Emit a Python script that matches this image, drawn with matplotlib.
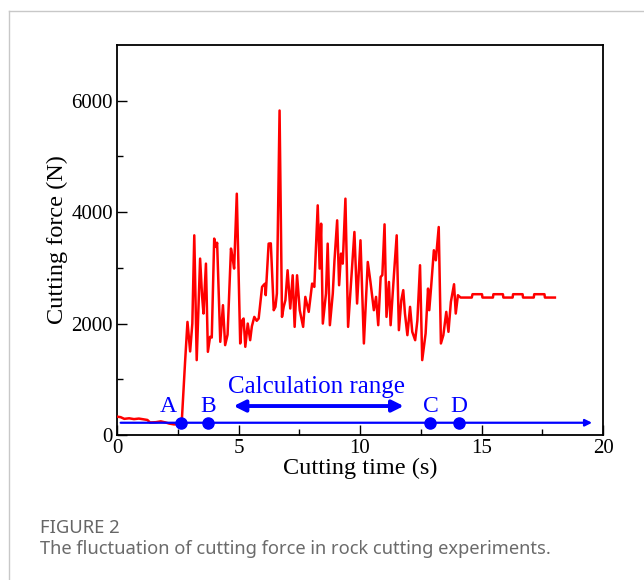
import matplotlib
matplotlib.use("Agg")
import matplotlib.pyplot as plt
from matplotlib.lines import Line2D

# ---- data ----
time_s = [0.00, 0.15, 0.30, 0.50, 0.70, 0.90, 1.10, 1.25, 1.36, 1.60, 1.80, 2.00, 2.15, 2.35, 2.55, 2.66,
          2.80, 2.90, 3.01, 3.10, 3.18, 3.28, 3.42, 3.50, 3.56, 3.66, 3.74, 3.83, 3.90, 4.00, 4.08, 4.12,
          4.25, 4.36, 4.45, 4.55, 4.69, 4.75, 4.82, 4.93, 5.07, 5.14, 5.21, 5.28, 5.38, 5.48, 5.55, 5.65,
          5.75, 5.83, 5.97, 6.05, 6.10, 6.12, 6.24, 6.33, 6.45, 6.52, 6.58, 6.69, 6.79, 6.86, 6.93, 7.02,
          7.13, 7.23, 7.31, 7.41, 7.52, 7.66, 7.75, 7.89, 8.03, 8.12, 8.26, 8.34, 8.40, 8.47, 8.60, 8.67,
          8.76, 8.88, 8.95, 9.06, 9.14, 9.22, 9.29, 9.40, 9.51, 9.60, 9.77, 9.88, 10.02, 10.16, 10.32, 10.43,
          10.57, 10.66, 10.75, 10.85, 10.92, 11.01, 11.09, 11.19, 11.26, 11.40, 11.51, 11.60, 11.70, 11.78,
          11.85, 11.95, 12.06, 12.15, 12.27, 12.36, 12.47, 12.56, 12.70, 12.80, 12.85, 12.92, 13.04, 13.12,
          13.24, 13.33, 13.43, 13.55, 13.64, 13.74, 13.87, 13.94, 14.03, 14.14, 14.60, 14.63, 15.02, 15.04,
          15.47, 15.49, 15.88, 15.90, 16.28, 16.30, 16.69, 16.71, 17.15, 17.17, 17.59, 17.61, 18.02]
force_N = [330, 320, 290, 300, 285, 295, 280, 270, 225, 230, 245, 225, 205, 190, 195, 200,
           1300, 2030, 1500, 2000, 3584, 1344, 3166, 2500, 2180, 3076, 1493, 1762, 1750, 3525, 3375, 3450,
           1672, 2330, 1613, 1800, 3346, 3200, 2987, 4331, 1643, 2050, 2091, 1583, 2000, 1702, 1950, 2120,
           2050, 2091, 2658, 2700, 2718, 2510, 3435, 3440, 2240, 2300, 2539, 5824, 2120, 2300, 2420, 2957,
           2270, 2867, 1941, 2867, 2240, 1941, 2479, 2210, 2718, 2658, 4122, 2987, 3793, 2000, 2539, 3435,
           1971, 2539, 3136, 3853, 2688, 3256, 3076, 4242, 1941, 2539, 3644, 2360, 3495, 1643, 3106, 2748,
           2240, 2479, 1971, 2837, 2870, 3781, 2120, 2748, 1971, 2897, 3584, 1882, 2420, 2600,
           2180, 1792, 2300, 1852, 1702, 2050, 3047, 1344, 1822, 2628, 2240, 2620, 3316, 3136,
           3733, 1643, 1792, 2210, 1852, 2390, 2706, 2180, 2509, 2467, 2467, 2527, 2527, 2467,
           2467, 2527, 2527, 2467, 2467, 2527, 2527, 2467, 2467, 2527, 2527, 2467, 2467]

point_labels = ["A", "B", "C", "D"]
point_times = [2.63, 3.75, 12.9, 14.06]
baseline_force = 220
baseline_start, baseline_end = 0.15, 19.55
range_start, range_end = 4.8, 11.8
range_force = 520
range_label = "Calculation range"

x_ticks = [0, 5, 10, 15, 20]
y_ticks = [0, 2000, 4000, 6000]

# ---- figure ----
fig = plt.figure(figsize=(6.44, 5.80), dpi=100)
W, H = 644, 580

# card border
fig.add_artist(Line2D([9 / W, 9 / W], [0, 1 - 11 / H], color="#c8c8c8", lw=1.0))
fig.add_artist(Line2D([9 / W, 1], [1 - 11 / H, 1 - 11 / H], color="#c8c8c8", lw=1.0))

ax = fig.add_axes([117 / W, 1 - 435 / H, (603 - 117) / W, (435 - 45) / H])
serif = ["Liberation Serif", "DejaVu Serif"]

ax.plot(time_s, force_N, color="#ff0000", lw=1.8, zorder=3)

blue = "#0000ff"
ax.annotate("", xy=(baseline_end, baseline_force), xytext=(baseline_start, baseline_force),
            arrowprops=dict(arrowstyle="-|>", color=blue, lw=1.6, mutation_scale=10,
                            shrinkA=0, shrinkB=0), zorder=4)
ax.plot(point_times, [baseline_force] * len(point_times), "o", color=blue, ms=8, zorder=5)
offsets = [-0.5, 0.0, 0.0, 0.0]
for lab, t, dx in zip(point_labels, point_times, offsets):
    ax.text(t + dx, baseline_force + 110, lab, color=blue, fontsize=17, family=serif,
            ha="center", va="bottom")

ax.annotate("", xy=(range_end, range_force), xytext=(range_start, range_force),
            arrowprops=dict(arrowstyle="<|-|>", color=blue, lw=2.8, mutation_scale=17,
                            shrinkA=0, shrinkB=0))
ax.text((range_start + range_end) / 2 - 0.1, range_force + 150, range_label, color=blue,
        fontsize=18, family=serif, ha="center", va="bottom")

ax.set_xlim(0, 20)
ax.set_ylim(0, 7000)
ax.set_xticks(x_ticks)
ax.set_yticks(y_ticks)
ax.set_xticks([2.5, 7.5, 12.5, 17.5], minor=True)
ax.set_yticks([1000, 3000, 5000], minor=True)
ax.tick_params(which="both", direction="in", labelsize=15, width=1.0)
ax.tick_params(which="major", length=7)
ax.tick_params(which="minor", length=4.5)
ax.tick_params(axis="x", pad=3)
ax.tick_params(axis="y", pad=3)
for lab in ax.get_xticklabels() + ax.get_yticklabels():
    lab.set_family(serif)
for s in ax.spines.values():
    s.set_linewidth(1.3)

ax.set_xlabel("Cutting time (s)", fontsize=17.5, family=serif, labelpad=0)
ax.set_ylabel("Cutting force (N)", fontsize=17.5, family=serif, labelpad=2)

# caption
fig.text(40 / W, 1 - 528 / H, "FIGURE 2", fontsize=13.3, color="#666666",
         family=["Noto Sans", "DejaVu Sans"], weight="semibold", va="center", ha="left")
fig.text(40 / W, 1 - 549 / H, "The fluctuation of cutting force in rock cutting experiments.",
         fontsize=13.2, color="#6b6b6b", family=["Noto Sans", "DejaVu Sans"], va="center", ha="left")

fig.savefig("out.png", dpi=100)
